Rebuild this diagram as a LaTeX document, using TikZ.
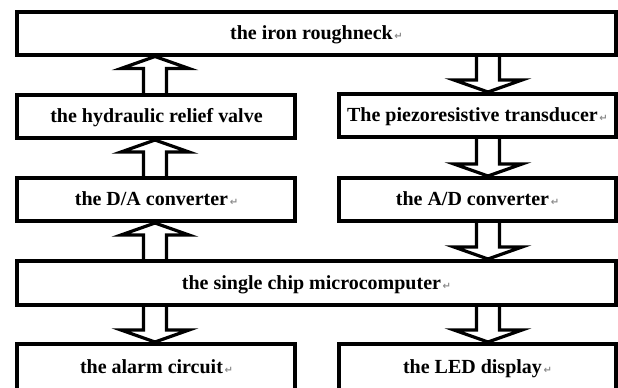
\documentclass[tikz,border=0pt]{standalone}
\usepackage{fontspec}
\setmainfont{Liberation Serif}
\newfontfamily\markfont{DejaVu Sans}
\usepackage{tikz}
\usetikzlibrary{calc}
\newcommand{\pmark}{{\markfont\fontsize{5pt}{5pt}\selectfont\color{black!45}\,↵}}
\tikzset{
  block/.style={rectangle, draw, line width=2pt, inner sep=0pt, align=center,
                text height=7.6pt, text depth=1.4pt,
                font=\fontsize{10pt}{12pt}\selectfont\bfseries},
  wideblock/.style={block, minimum width=299.5pt, minimum height=21.5pt},
  halfblock/.style={block, minimum width=139pt, minimum height=21.5pt},
  hollow/.style={draw=black, line width=1.6pt, line join=miter},
}
% hollow block arrows between two named nodes, at the x of a named coordinate
\newcommand{\blockup}[3]{%
  \draw[hollow] let \p1=(#3), \p2=(#1.north), \p3=(#2.south) in
    (\x1-5.75pt,\y2) -- (\x1-5.75pt,\y3-6pt) -- (\x1-17pt,\y3-6pt) -- (\x1,\y3)
    -- (\x1+17pt,\y3-6pt) -- (\x1+5.75pt,\y3-6pt) -- (\x1+5.75pt,\y2);}
\newcommand{\blockdown}[3]{%
  \draw[hollow] let \p1=(#3), \p2=(#1.south), \p3=(#2.north) in
    (\x1-5.75pt,\y2) -- (\x1-5.75pt,\y3+6pt) -- (\x1-17pt,\y3+6pt) -- (\x1,\y3)
    -- (\x1+17pt,\y3+6pt) -- (\x1+5.75pt,\y3+6pt) -- (\x1+5.75pt,\y2);}

\begin{document}
\begin{tikzpicture}[x=0.5pt, y=-0.5pt]
  \useasboundingbox (0,0) rectangle (618,387);
  \node[wideblock] (iron) at (316.5,33) {the iron roughneck\pmark};
  \node[halfblock] (valve) at (156.5,116.5) {the hydraulic relief valve};
  \node[halfblock, minimum width=138.5pt] (sensor) at (477.5,115.5) {The piezoresistive transducer\pmark};
  \node[halfblock] (dac) at (156.5,199.5) {the D/A converter\pmark};
  \node[halfblock, minimum width=138.5pt] (adc) at (477.5,199.5) {the A/D converter\pmark};
  \node[wideblock, minimum height=22pt] (mcu) at (316.5,283) {the single chip microcomputer\pmark};
  \node[halfblock, minimum height=23pt] (alarm) at (156.5,367) {the alarm circuit\pmark};
  \node[halfblock, minimum width=138.5pt, minimum height=23pt] (led) at (477.5,367) {the LED display\pmark};
  \coordinate (lx) at (155,0);
  \coordinate (rx) at (488,0);
  \blockup{valve}{iron}{lx}
  \blockup{dac}{valve}{lx}
  \blockup{mcu}{dac}{lx}
  \blockdown{mcu}{alarm}{lx}
  \blockdown{iron}{sensor}{rx}
  \blockdown{sensor}{adc}{rx}
  \blockdown{adc}{mcu}{rx}
  \blockdown{mcu}{led}{rx}
\end{tikzpicture}
\end{document}
